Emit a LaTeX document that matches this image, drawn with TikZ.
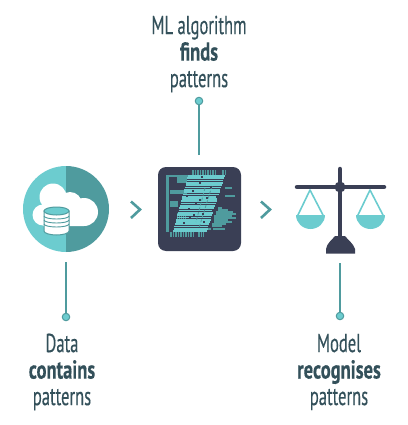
\documentclass[tikz,border=0pt]{standalone}
\usepackage{fontspec}
\newfontfamily\capfont[FakeStretch=0.637,FakeBold=0.3,BoldFeatures={FakeStretch=0.713,FakeBold=0.3}]{PT Sans}
\usetikzlibrary{positioning}
\definecolor{lightteal}{HTML}{6CCCCF}
\definecolor{darkteal}{HTML}{4F9B9E}
\definecolor{slate}{HTML}{3A3F55}
\definecolor{inktext}{HTML}{33505A}
\tikzset{
  stem/.style={darkteal,line width=2pt},
  dot/.style={circle,fill=lightteal,draw=darkteal,line width=1pt,inner sep=0pt,minimum size=7.5pt},
  caption/.style={align=center,text=inktext,font=\capfont\fontsize{26}{26.5}\selectfont,inner sep=0pt},
  chevron/.style={darkteal,line width=2.6pt},
  codeline/.style={line width=1.7pt},
  scalearm/.style={lightteal,line width=1.6pt,line join=round}
}
\begin{document}
\begin{tikzpicture}[x=1pt,y=-1pt]
\useasboundingbox (0,0) rectangle (407,425);
\fill[lightteal] (66,166) arc (270:90:43) -- cycle;
\fill[darkteal] (66,166) arc (-90:90:43) -- cycle;
\fill[white] (53,197) circle[radius=13.5pt] (43,215) circle[radius=10.5pt] (84,212) circle[radius=14pt] (70,204) circle[radius=12pt] (43,202) rectangle (84,226);
\fill[white,draw=darkteal,line width=1pt] (44,211) -- (44,231) arc (180:0:12.5 and 4) -- (69,211) -- cycle;
\foreach \y in {216,220,224}{\draw[darkteal,line width=.9pt] (44,\y) arc (180:0:12.5 and 3);}
\fill[lightteal,draw=darkteal,line width=1pt] (56.5,211) ellipse[x radius=12.5pt,y radius=4pt];
\fill[slate,rounded corners=8pt] (158,167) rectangle (241,251);
\fill[darkteal] (166,175) rectangle (169,232);
\foreach \y/\a/\b in {176/169/190,178/177/187,180/177/187,182/177/187,188/225/232,191/170/187,193/170/187,196/225/235,202/170/178,204/170/178,206/170/178,208/218/222,210/218/228,212/216/233,214/216/236,216/214/232,218/214/236,220/214/228,222/214/232,224/212/226,226/212/222,229/205/225}{
  \draw[darkteal,codeline] (\a,\y) -- (\b,\y);}
\foreach \x in {177,179,181,183,185}{\draw[darkteal,line width=1pt] (\x,213) -- (\x,224);}
\foreach \y in {176,178.3,...,232}{
  \pgfmathsetmacro{\xa}{188-(\y-176)*.27}
  \pgfmathsetmacro{\xb}{225-(\y-176)*.33}
  \draw[lightteal,codeline] (\xa,\y) -- (\xb,\y);}
\draw[darkteal,line width=5pt,dash pattern=on 1.5pt off 1pt] (192,172) -- (217,172) (222,172) -- (227,172) (170,234) -- (195,234) (198,234) -- (204,234);
\draw[darkteal,line width=.8pt,dash pattern=on 3pt off 2pt] (212,186) -- (199,228) (205,188) -- (196,222);
\foreach \x/\y in {199/182,186/195,192/190,199/199,210/186,206/197,188/208,193/214,203/221,211/228,178/205,216/196,212/210,201/176,195/203,189/216,183/222,202/213}{
  \fill[slate] (\x,\y) rectangle +(1.6,1.6);}
\draw[chevron] (131,201.5) -- (140,209.5) -- (131,218);
\draw[chevron] (261,201.5) -- (270,209.5) -- (261,218);
\draw[slate,line width=4.5pt,line cap=round] (297,187) -- (384,187) (340,169) -- (340,238);
\fill[slate] (340,187) circle[radius=5.5pt];
\fill[slate] (326,253.5) -- (326,249) .. controls (327,243) and (332,240) .. (335,236) -- (345,236) .. controls (348,240) and (353,243) .. (355,249) -- (355,253.5) -- cycle;
\draw[scalearm] (297,217) -- (310,190) -- (324,217);
\draw[scalearm] (357,217) -- (370,190) -- (384,217);
\fill[lightteal] (296,215) arc (180:0:14.5 and 14) -- cycle;
\fill[lightteal] (356,215) arc (180:0:14.5 and 14) -- cycle;
\coordinate (datatop) at (66,262);
\node[dot] (datadot) at (66,317) {};
\draw[stem] (datatop) -- (datadot);
\coordinate (algobottom) at (199,155);
\node[dot] (algodot) at (199,101) {};
\draw[stem] (algobottom) -- (algodot);
\coordinate (modeltop) at (340,263);
\node[dot] (modeldot) at (340,316) {};
\draw[stem] (modeltop) -- (modeldot);
\node[caption] (algotext) at (199,54) {ML algorithm\\\textbf{finds}\\patterns};
\node[caption] (datatext) at (62,372) {Data\\\textbf{contains}\\patterns};
\node[caption] (modeltext) at (339,372) {Model\\\textbf{recognises}\\patterns};
\end{tikzpicture}
\end{document}
